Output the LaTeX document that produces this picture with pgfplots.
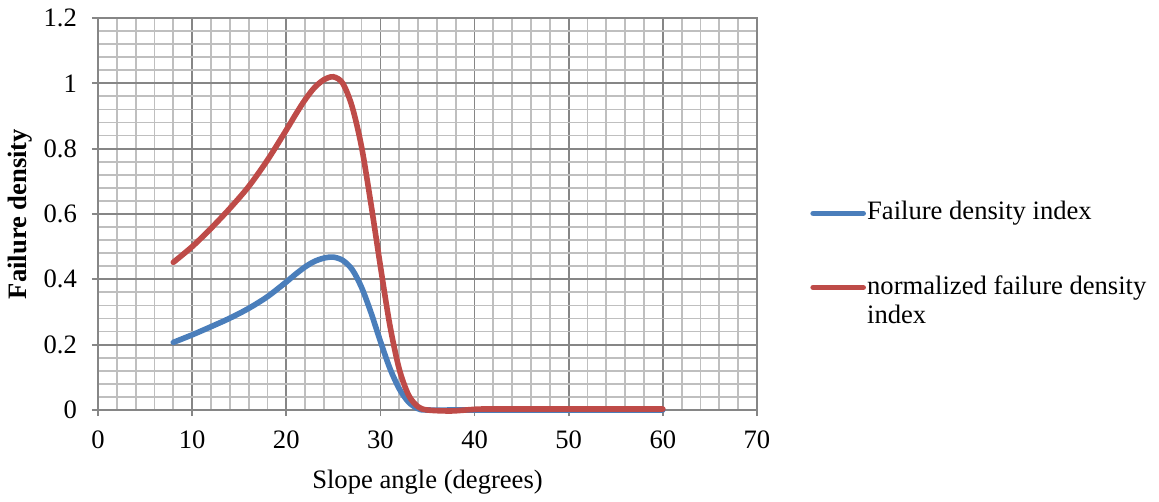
\documentclass[border=0pt]{standalone}
\usepackage{fontspec}
\setmainfont{Liberation Serif}
\usepackage{pgfplots}
\pgfplotsset{compat=1.18}
\definecolor{sblue}{HTML}{4A7EBB}
\definecolor{sred}{HTML}{BE4B48}
\definecolor{gmaj}{HTML}{868686}
\definecolor{gmin}{HTML}{BFBFBF}
\newcommand\f{\fontsize{13.3}{14.8}\selectfont}
\begin{document}
\begin{tikzpicture}
\useasboundingbox (-49pt,-46pt) rectangle (530.5pt,205pt);
\begin{axis}[
  at={(0,0)}, anchor=south west,
  scale only axis, width=329.5pt, height=196pt,
  xmin=0, xmax=70, ymin=0, ymax=1.2,
  xtick={0,10,20,30,40,50,60,70},
  ytick={0,0.2,0.4,0.6,0.8,1,1.2},
  minor x tick num=4, minor y tick num=4,
  grid=both,
  major grid style={gmaj, line width=0.9pt},
  minor grid style={gmin, line width=0.9pt},
  axis line style={gmaj, line width=0.9pt},
  tick style={gmaj, line width=0.9pt},
  tick align=outside, major tick length=3pt, minor tick length=0pt,
  xtick pos=bottom, ytick pos=left,
  tick label style={font=\f, text=black},
  /pgf/number format/assume math mode=true,
  yticklabel style={xshift=-4pt},
  xticklabel style={yshift=-4pt},
  xlabel={Slope angle (degrees)},
  ylabel={\bfseries Failure density},
  label style={font=\f},
  xlabel style={at={(axis description cs:0.5,-0.184)}, anchor=center},
  ylabel style={at={(axis description cs:-0.099,0.5)}, anchor=south, inner sep=0pt},
  clip=false,
  legend image code/.code={\draw[#1, line cap=round] (0pt,3.3pt) -- (25pt,3.3pt);},
  legend style={at={(axis description cs:1.0713,0.41)}, anchor=west,
    draw=none, fill=none, font=\f, row sep=25pt, column sep=0pt,
    nodes={inner sep=0.6pt}, cells={anchor=base west}},
]
\addplot[sblue, line width=2.8pt, smooth, line cap=round] coordinates {
(8,0.207)(10,0.230)(12,0.255)(14,0.281)(16,0.311)(18,0.347)(20,0.392)(21,0.416)(22,0.438)(23,0.455)(24,0.465)(25,0.468)(26,0.458)(27,0.430)(28,0.375)(29,0.298)(30,0.210)(31,0.128)(32,0.065)(33,0.024)(34,0.004)(35,0)(40,0)(60,0)
};
\addlegendentry{Failure density index}
\addplot[sred, line width=2.8pt, smooth, line cap=round] coordinates {
(8,0.452)(10,0.500)(12,0.556)(14,0.617)(16,0.684)(18,0.765)(20,0.857)(21,0.905)(22,0.950)(23,0.987)(24,1.011)(25,1.020)(26,1.000)(27,0.928)(28,0.805)(29,0.630)(30,0.440)(31,0.260)(32,0.125)(33,0.045)(34,0.010)(35,0)(37.5,-0.003)(40,0.002)(42,0.003)(60,0.003)
};
\addlegendentry{\parbox[t]{160pt}{normalized failure density\\index}}
\end{axis}
\end{tikzpicture}
\end{document}
